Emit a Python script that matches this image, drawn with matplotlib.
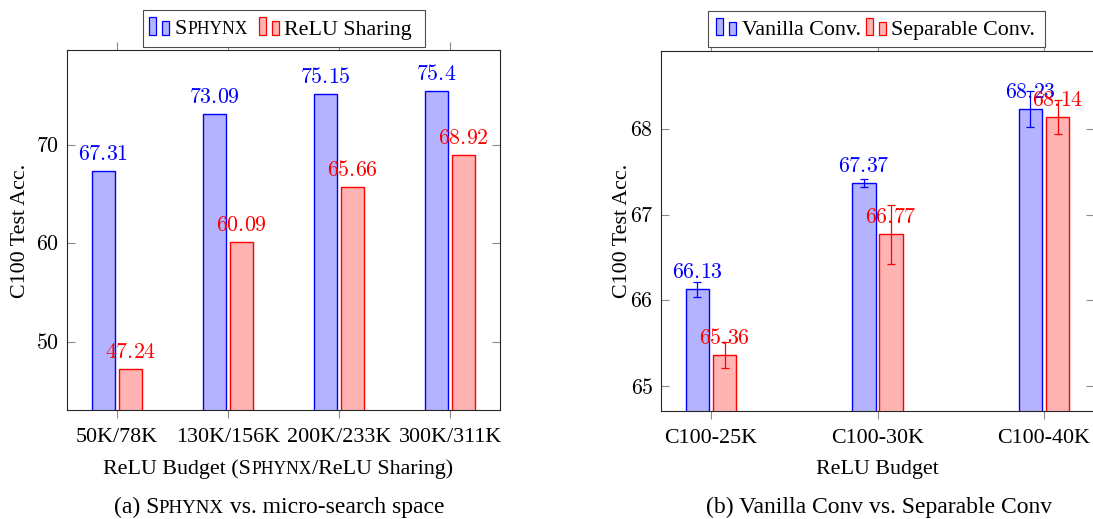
import matplotlib
matplotlib.use('Agg')
import numpy as np
import matplotlib.pyplot as plt
from matplotlib.patches import Rectangle
from matplotlib.transforms import IdentityTransform
from matplotlib.ticker import FuncFormatter

plt.rcParams['font.family'] = ['Liberation Serif', 'DejaVu Serif']
plt.rcParams['mathtext.fontset'] = 'cm'

W, H = 1093, 519
FS = 15.8
SC = 0.8  # small caps scale

# (a) data
left_cats = ['50K/78K', '130K/156K', '200K/233K', '300K/311K']
sphynx = [67.31, 73.09, 75.15, 75.4]
relu_sharing = [47.24, 60.09, 65.66, 68.92]

# (b) data
right_cats = ['C100-25K', 'C100-30K', 'C100-40K']
vanilla = [66.13, 67.37, 68.23]
vanilla_err = [0.09, 0.05, 0.21]
separable = [65.36, 66.77, 68.14]
separable_err = [0.15, 0.34, 0.20]

blue_fill = (0.7, 0.7, 1.0)
red_fill = (1.0, 0.7, 0.7)

fig = plt.figure(figsize=(W / 100, H / 100), dpi=100)
ID = IdentityTransform()


def px_axes(x0, y0, x1, y1):
    return fig.add_axes([x0 / W, 1 - y1 / H, (x1 - x0) / W, (y1 - y0) / H])


def style(ax):
    for s in ax.spines.values():
        s.set_linewidth(0.8)
        s.set_color('0.15')
    ax.tick_params(axis='y', direction='in', left=True, right=True, length=6,
                   width=0.8, color='0.55', labelsize=FS, pad=5.5)
    ax.tick_params(axis='x', direction='out', top=True, bottom=True, length=6,
                   width=0.8, color='0.55', labelsize=FS, pad=7)
    ax.yaxis.set_major_formatter(FuncFormatter(lambda v, p: f'${v:g}$'))


def value_labels(ax, xs, vals, color):
    for xi, v in zip(xs, vals):
        ax.annotate(f'${v:g}$', xy=(xi, v), xytext=(0, 4.5), textcoords='offset points',
                    ha='center', va='bottom', color=color, fontsize=FS, zorder=5)


def put_text(x, y, parts, size, ha='left'):
    # parts: (string, scale) pieces set side by side on one baseline
    r = fig.canvas.get_renderer()
    arts = [fig.text(0, 0, s, transform=ID, fontsize=size * k, va='baseline', ha='left')
            for s, k in parts]
    widths = [a.get_window_extent(r).width for a in arts]
    x0 = x - sum(widths) / 2 if ha == 'center' else x
    for a, w in zip(arts, widths):
        a.set_position((x0, H - y))
        x0 += w


def legend_box(x0, y0, x1, y1):
    fig.add_artist(Rectangle((x0, H - y1), x1 - x0, y1 - y0, transform=ID,
                             facecolor='white', edgecolor='0.3', lw=0.8, zorder=10))


def legend_handle(x, base, fill, edge):
    fig.add_artist(Rectangle((x, H - base), 7, 17.5, transform=ID,
                             facecolor=fill, edgecolor=edge, lw=0.9, zorder=11))
    fig.add_artist(Rectangle((x + 13, H - base), 7, 13.5, transform=ID,
                             facecolor=fill, edgecolor=edge, lw=0.9, zorder=11))


# ---- (a) ----
ax1 = px_axes(67, 50, 500, 410)
x = np.arange(1, len(left_cats) + 1)
bw, off = 0.207, 0.1216
ax1.bar(x - off, sphynx, bw, color=blue_fill, edgecolor='blue', lw=1.0, zorder=2)
ax1.bar(x + off, relu_sharing, bw, color=red_fill, edgecolor='red', lw=1.0, zorder=2)
value_labels(ax1, x - off, sphynx, 'blue')
value_labels(ax1, x + off, relu_sharing, 'red')
ax1.set_xlim(0.55, 4.45)
ax1.set_ylim(43.1, 79.6)
ax1.set_xticks(x, left_cats)
ax1.set_yticks([50, 60, 70])
style(ax1)

# ---- (b) ----  (right edge of the frame falls at the picture's edge)
ax2 = px_axes(661, 51, 1094, 411)
x2 = np.arange(1, len(right_cats) + 1)
bw2, off2 = 0.1386, 0.0813
ax2.bar(x2 - off2, vanilla, bw2, color=blue_fill, edgecolor='blue', lw=1.0, zorder=2)
ax2.bar(x2 + off2, separable, bw2, color=red_fill, edgecolor='red', lw=1.0, zorder=2)
ax2.errorbar(x2 - off2, vanilla, yerr=vanilla_err, fmt='none', ecolor='blue',
             elinewidth=0.9, capsize=3, capthick=0.9, zorder=3)
ax2.errorbar(x2 + off2, separable, yerr=separable_err, fmt='none', ecolor='red',
             elinewidth=0.9, capsize=3, capthick=0.9, zorder=3)
value_labels(ax2, x2 - off2, vanilla, 'blue')
value_labels(ax2, x2 + off2, separable, 'red')
ax2.set_xlim(0.7, 3.3)
ax2.set_ylim(64.71, 68.91)
ax2.set_xticks(x2, right_cats)
ax2.set_yticks([65, 66, 67, 68])
style(ax2)
ax2.spines['right'].set_visible(False)

# y labels
fig.text(25, H - 231, 'C100 Test Acc.', transform=ID, rotation=90, rotation_mode='anchor',
         ha='center', va='baseline', fontsize=FS)
fig.text(627, H - 231, 'C100 Test Acc.', transform=ID, rotation=90, rotation_mode='anchor',
         ha='center', va='baseline', fontsize=FS)

# x labels and captions
put_text(278, 474, [('ReLU Budget (S', 1), ('PHYNX', SC), ('/ReLU Sharing)', 1)], FS, ha='center')
put_text(877, 474, [('ReLU Budget', 1)], FS, ha='center')
put_text(279, 513, [('(a) S', 1), ('PHYNX', SC), (' vs. micro-search space', 1)], 17, ha='center')
put_text(879, 513, [('(b) Vanilla Conv vs. Separable Conv', 1)], 17, ha='center')

# legends
legend_box(143, 10, 425, 47)
legend_handle(149, 34.5, blue_fill, 'blue')
legend_handle(259, 34.5, red_fill, 'red')
put_text(175, 34.5, [('S', 1), ('PHYNX', SC)], FS)
put_text(284, 34.5, [('ReLU Sharing', 1)], FS)

legend_box(708, 11, 1045, 47)
legend_handle(716, 35, blue_fill, 'blue')
legend_handle(866, 35, red_fill, 'red')
put_text(742, 35, [('Vanilla Conv.', 1)], FS)
put_text(891, 35, [('Separable Conv.', 1)], FS)
for t in fig.texts[-6:]:
    t.set_zorder(12)

fig.savefig('out.png', dpi=100)
